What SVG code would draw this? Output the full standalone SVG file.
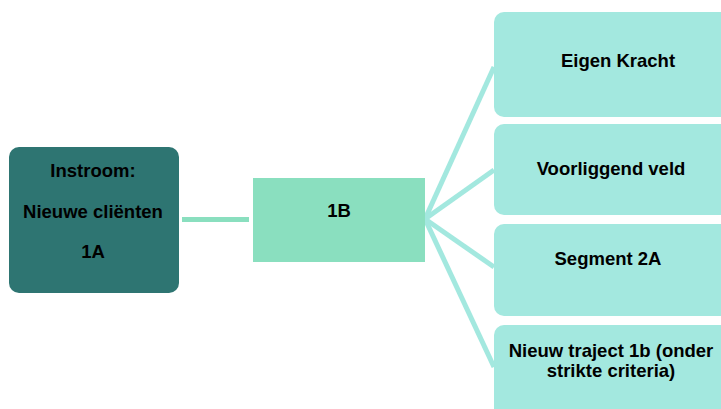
<svg xmlns="http://www.w3.org/2000/svg" width="721" height="409" viewBox="0 0 721 409">
<style>
text{font-family:"Liberation Sans",Arial,sans-serif;font-weight:bold;font-size:18.5px;fill:#000;text-anchor:middle}
.r{fill:#A3E8DF}
.c{stroke:#A3E8DF;stroke-width:5;fill:none}
</style>
<rect width="721" height="409" fill="#fff"/>
<g id="connectors">
<line x1="182" y1="219.5" x2="249" y2="219.5" stroke="#8ADFBF" stroke-width="5"/>
<line class="c" x1="425" y1="219" x2="494" y2="67"/>
<line class="c" x1="425" y1="219" x2="494" y2="170"/>
<line class="c" x1="425" y1="219" x2="494" y2="267"/>
<line class="c" x1="425" y1="219" x2="494" y2="367"/>
</g>
<g id="node-1A">
<rect x="9" y="147" width="170" height="146" rx="10" fill="#2E7572"/>
<text x="93" y="177">Instroom:</text>
<text x="93" y="218">Nieuwe cliënten</text>
<text x="93" y="258">1A</text>
</g>
<g id="node-1B">
<rect x="253" y="178" width="172" height="84" fill="#8ADFBF"/>
<text x="339" y="217">1B</text>
</g>
<g id="node-eigen">
<rect class="r" x="494" y="12" width="250" height="105" rx="10"/>
<text x="618" y="67">Eigen Kracht</text>
</g>
<g id="node-voorliggend">
<rect class="r" x="494" y="124" width="250" height="91" rx="10"/>
<text x="611" y="175">Voorliggend veld</text>
</g>
<g id="node-segment">
<rect class="r" x="494" y="224" width="250" height="92" rx="10"/>
<text x="608" y="265">Segment 2A</text>
</g>
<g id="node-nieuw">
<rect class="r" x="494" y="325" width="250" height="100" rx="10"/>
<text x="611" y="357" font-size="18">Nieuw traject 1b (onder</text>
<text x="611" y="377" font-size="18">strikte criteria)</text>
</g>
</svg>
